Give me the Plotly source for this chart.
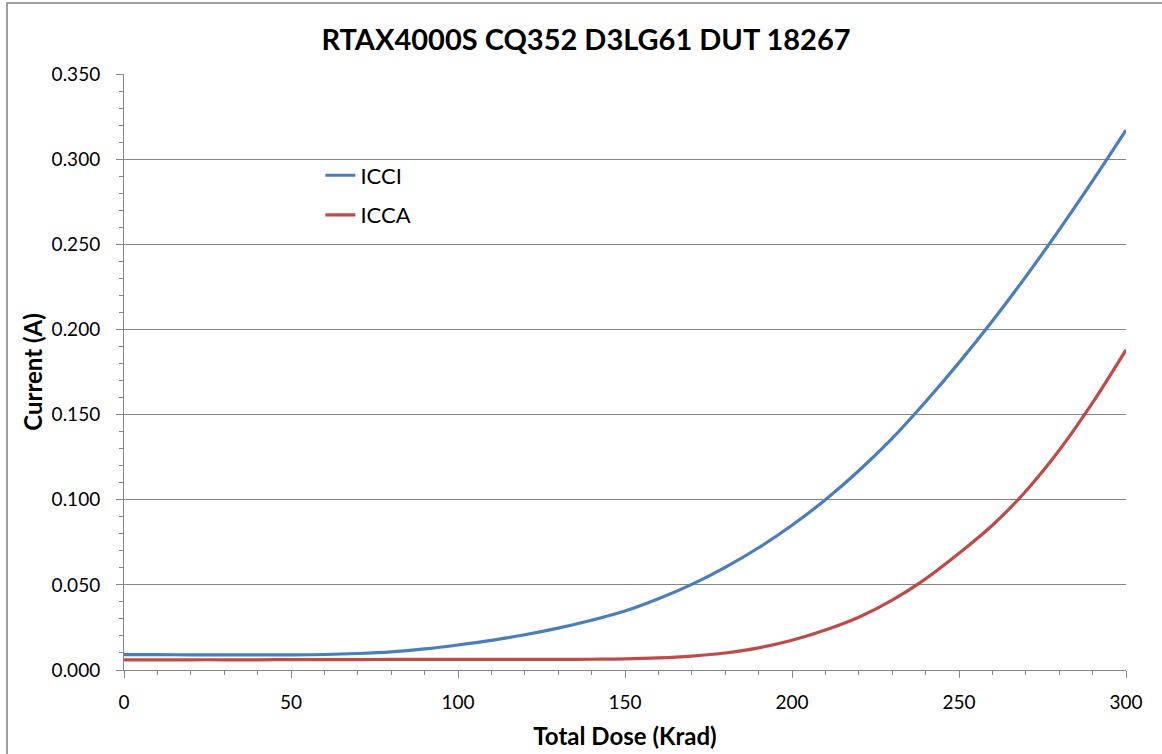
import plotly.graph_objects as go

dose = [0, 10, 20, 30, 40, 50, 60, 70, 80, 90, 100, 110, 120, 130, 140, 150,
        160, 170, 180, 190, 200, 210, 220, 230, 240, 250, 260, 270, 280, 290, 300]
icci = [0.0090, 0.0090, 0.0089, 0.0089, 0.0089, 0.0089, 0.0091, 0.0097, 0.0107, 0.0124,
        0.0147, 0.0174, 0.0207, 0.0246, 0.0292, 0.0346, 0.0418, 0.0503, 0.0603, 0.0718,
        0.0850, 0.1000, 0.1170, 0.1360, 0.1575, 0.1805, 0.2050, 0.2310, 0.2585, 0.2872, 0.3170]
icca = [0.0059, 0.0059, 0.0060, 0.0060, 0.0060, 0.0061, 0.0061, 0.0061, 0.0062, 0.0062,
        0.0062, 0.0062, 0.0062, 0.0062, 0.0063, 0.0065, 0.0071, 0.0082, 0.0100, 0.0130,
        0.0175, 0.0235, 0.0310, 0.0410, 0.0535, 0.0685, 0.0850, 0.1050, 0.1290, 0.1570, 0.1880]

title_text = "RTAX4000S CQ352 D3LG61 DUT 18267"
x_title = "Total Dose (Krad)"
y_title = "Current (A)"

FONT = "Lato"
GRID = "#868686"

fig = go.Figure()
fig.add_trace(go.Scatter(x=dose, y=icci, mode="lines", name="ICCI", legendgroup="a",
                         line=dict(color="#4A7EBB", width=3.2, shape="spline", smoothing=1.0)))
fig.add_trace(go.Scatter(x=dose, y=icca, mode="lines", name="ICCA", legendgroup="b",
                         line=dict(color="#BE4B48", width=3.2, shape="spline", smoothing=1.0)))

fig.update_layout(
    width=1162, height=754,
    margin=dict(l=124, r=36, t=74, b=84),
    paper_bgcolor="white", plot_bgcolor="white",
    font=dict(family=FONT, size=19, color="black"),
    title=dict(text="<b>" + title_text + "</b>", x=586 / 1162, xanchor="center",
               y=1 - 40 / 754, yanchor="middle", font=dict(size=29, family=FONT)),
    showlegend=True,
    legend=dict(x=0.196, y=0.865, xanchor="left", yanchor="top", bgcolor="rgba(0,0,0,0)",
                font=dict(size=22, family=FONT), traceorder="grouped", tracegroupgap=8,
                itemwidth=30),
    xaxis=dict(range=[0, 300], tickvals=[0, 50, 100, 150, 200, 250, 300],
               showgrid=False, zeroline=False, showline=True, linecolor=GRID, linewidth=1,
               ticks="outside", ticklen=7, tickcolor=GRID, tickfont=dict(size=19),
               ticklabelstandoff=8, automargin=False,
               minor=dict(dtick=10, ticks="outside", ticklen=4, tickcolor=GRID, showgrid=False),
               title=dict(text="<b>" + x_title + "</b>", font=dict(size=24), standoff=16)),
    yaxis=dict(range=[0, 0.35], dtick=0.05, tickformat=".3f",
               showgrid=True, gridcolor=GRID, gridwidth=1, zeroline=False,
               showline=True, linecolor=GRID, linewidth=1,
               ticks="outside", ticklen=7, tickcolor=GRID, tickfont=dict(size=19),
               ticklabelstandoff=12, automargin=False,
               minor=dict(dtick=0.01, ticks="outside", ticklen=4, tickcolor=GRID, showgrid=False),
               title=dict(text="<b>" + y_title + "</b>", font=dict(size=24), standoff=2)),
)

fig.add_shape(type="rect", xref="paper", yref="paper",
              x0=(7 - 124) / 1002, x1=1.2, y0=-0.3, y1=(670 - 3) / 596,
              line=dict(color="#A0A0A0", width=2), fillcolor="rgba(0,0,0,0)", layer="below")

fig.write_html("out.html", config={"displayModeBar": False},
               post_script="document.body.style.margin='0';")
